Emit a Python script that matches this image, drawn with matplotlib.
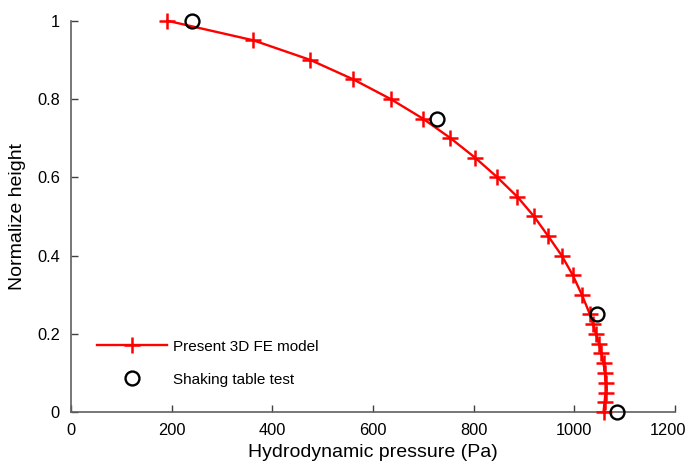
import matplotlib
matplotlib.use("Agg")
import matplotlib.pyplot as plt
import matplotlib.transforms as mtransforms

plt.rcParams['font.family'] = ['Liberation Sans', 'DejaVu Sans']

# present 3D FE model
fe_height = [1.0, 0.95, 0.9, 0.85, 0.8, 0.75, 0.7, 0.65, 0.6, 0.55, 0.5, 0.45,
             0.4, 0.35, 0.3, 0.25, 0.225, 0.2, 0.175, 0.15, 0.125, 0.1, 0.075,
             0.05, 0.025, 0.0]
fe_pressure = [191, 362, 475, 561, 635, 699, 754, 803, 847, 887, 920, 948,
               975, 997, 1015, 1031, 1037, 1043, 1049, 1054, 1058, 1061, 1062,
               1062, 1060, 1058]

# shaking table test
test_height = [1.0, 0.75, 0.25, 0.0]
test_pressure = [240, 728, 1045, 1085]

xticks = [0, 200, 400, 600, 800, 1000, 1200]
yticks = [0, 0.2, 0.4, 0.6, 0.8, 1]
ytick_labels = ['0', '0.2', '0.4', '0.6', '0.8', '1']

fig = plt.figure(figsize=(6.87, 4.68), dpi=100)
ax = fig.add_axes([0.1033, 0.1192, 0.8792, 0.8366])

ax.plot(fe_pressure, fe_height, color='red', lw=1.7, marker='+', ms=12,
        mew=1.8, clip_on=False, label='Present 3D FE model', zorder=3)
ax.plot(test_pressure, test_height, ls='none', marker='o', ms=10,
        mfc='none', mec='black', mew=1.7, clip_on=False,
        label='Shaking table test', zorder=4)

ax.set_xlim(0, 1200)
ax.set_ylim(0, 1)
ax.set_xticks(xticks)
ax.set_yticks(yticks)
ax.set_yticklabels(ytick_labels)

for s in ['top', 'right']:
    ax.spines[s].set_visible(False)
for s in ['left', 'bottom']:
    ax.spines[s].set_color('#606060')
    ax.spines[s].set_linewidth(1.2)
ax.tick_params(direction='in', length=5, width=1.0, color='#404040',
               labelsize=11.8, pad=8)

# keep the last x label inside the picture
last = ax.get_xticklabels()[-1]
last.set_transform(last.get_transform() +
                   mtransforms.ScaledTranslation(-5 / 72, 0, fig.dpi_scale_trans))

ax.set_xlabel('Hydrodynamic pressure (Pa)', fontsize=14, labelpad=4)
ax.set_ylabel('Normalize height', fontsize=14, labelpad=8)

ax.legend(loc='lower left', bbox_to_anchor=(0.02, 0.03), frameon=False,
          fontsize=11, handlelength=4.6, labelspacing=1.25, handletextpad=0.4,
          numpoints=1)

fig.savefig('out.png', dpi=100)
